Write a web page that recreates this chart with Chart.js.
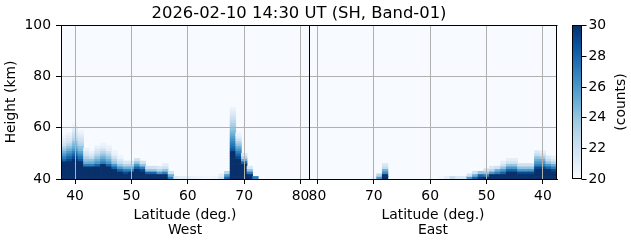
<!DOCTYPE html>
<html><head><meta charset="utf-8">
<script src="https://cdn.jsdelivr.net/npm/chart.js@4.4.1/dist/chart.umd.min.js"></script>
<style>html,body{margin:0;padding:0;background:#fff}#wrap{width:631px;height:243px}</style>
</head><body><div id="wrap"><canvas id="c" width="631" height="243"></canvas></div>
<script>
const titleText = '2026-02-10 14:30 UT (SH, Band-01)';
const yTitle = 'Height (km)';
const xTitle = 'Latitude (deg.)';
const sideNames = ['West', 'East'];
const cbarTitle = '(counts)';

const heightBase = 40;
const heightStep = 1;
const heightTicks = [40, 60, 80, 100];
const latTicks = [40, 50, 60, 70, 80];
const cbarTicks = [20, 22, 24, 26, 28, 30];
const countMin = 20, countMax = 30;

const westLats = [38,39,40,41,42,43,44,45,46,47,48,49,50,51,52,53,54,55,56,57,58,59,60,61,62,63,64,65,66,67,68,69,70,71,72,73,74,75,76,77,78,79,80,81];
// counts per 1-km height cell, from 40 km upward
const westCounts = [
  [30,30,30,30,30,30,30,28,27,26,25,24,23,22,21.5,21,20.5],
  [30,30,30,30,30,30,30,29,28,27,26,25,24,23,22,21.5,21,20.6],
  [30,30,30,30,30,30,30,30,29,28,27,26,25,24.5,24,23,22.5,22,21.5,21,20.6,20.3],
  [30,30,30,30,30,30,30,28.5,27.5,26.5,25.5,24.5,24,23,22.5,22,21.5,21,20.5],
  [30,30,30,30,30,27,25,24,23,22,21.5,20.7],
  [30,30,30,30,30,27,25,24,22.5,21.5,20.7],
  [30,30,30,30,30,28,26,25,24,23,22,21.5,20.7],
  [30,30,30,30,30,30,27,26,25,24,23,22,21,20.6],
  [30,30,30,30,30,28,26,25,24,23,22,21,20.6],
  [30,30,30,30,28,26,24,23,22,21,20.6],
  [30,30,30,28,26,24,22.5,21.5,20.6],
  [30,30,29,27,25,23,21.5],
  [30,30,30,27,25,23,21.5],
  [30,30,30,30,28,26,24,22],
  [30,30,30,29,27,24,22],
  [30,30,28,24,22],
  [30,30,28,24,22],
  [30,30,26,23,21.5],
  [30,30,27,24,22,21],
  [27,25,22],
  [21.5],
  [21],
  [21],
  [20.7],
  [20.5],
  [20.3],
  [20.3],
  [20.5],
  [22,21],
  [28,26,23],
  [30,30,30,30,30,30,30,30,30,30,30,28.5,27.8,27.3,26.7,26.2,25.6,25,24.5,24,23.6,23.2,22.7,22.3,21.9,21.4,21,20.6],
  [30,30,30,30,30,30,30,30,29,28,27,26,25,24,23,22,21,20.5],
  [30,30,30,30,30,30,28,25,23,21.5],
  [30,30,27,24,21.5],
  [27],
  [],[],[],[],[],[],[],[],[]
];

const eastLats = [81,80,79,78,77,76,75,74,73,72,71,70,69,68,67,66,65,64,63,62,61,60,59,58,57,56,55,54,53,52,51,50,49,48,47,46,45,44,43,42,41,40,39,38];
const eastCounts = [
  [],[],[],[],[],[],[],[],[],[],[],
  [20.5],
  [26,23],
  [30,30,26.5,25,22.5,21.5],
  [],[],[],[],[],[],[],[],[],
  [20.3],
  [21],
  [22.5],
  [21.5],
  [21.5],
  [26,22],
  [28,25,22],
  [29.5,28,24],
  [30,27,24,22],
  [30,30,26,23,21.5],
  [30,30,27,25,22],
  [30,30,28,26,24,22,21],
  [30,30,30,28,26,24,22,21],
  [30,30,30,28,26,24,22,21],
  [30,30,29,26,24,22],
  [30,30,29,26,24,22],
  [30,30,29,26,24,22],
  [30,30,30,30,29,27,26,25,24,22.5,21.5],
  [30,30,30,30,29,27,26,25,23.5,22,21],
  [30,30,30,30,28,26,24,22.5,21.5],
  [30,30,30,29,27,25,23,21.5,20.7]
];

// Matplotlib "Blues" colormap anchors
const blues = ['#f7fbff','#deebf7','#c6dbef','#9ecae1','#6baed6','#4292c6','#2171b5','#08519c','#08306b'];
function hex(h){return [parseInt(h.slice(1,3),16),parseInt(h.slice(3,5),16),parseInt(h.slice(5,7),16)];}
const bluesRGB = blues.map(hex);
function cmap(v){
  let t = (v - countMin) / (countMax - countMin);
  t = Math.max(0, Math.min(1, t));
  const f = t * (bluesRGB.length - 1);
  const i = Math.min(bluesRGB.length - 2, Math.floor(f));
  const u = f - i;
  const a = bluesRGB[i], b = bluesRGB[i+1];
  const c = a.map((x,k)=>Math.round(x + (b[k]-x)*u));
  return 'rgb(' + c.join(',') + ')';
}

const nWest = westLats.length, nEast = eastLats.length;
const cells = [];
westCounts.forEach((col, i) => col.forEach((v, r) => cells.push({x: i + 0.5, y: [heightBase + r*heightStep, heightBase + (r+1)*heightStep], c: v})));
eastCounts.forEach((col, j) => col.forEach((v, r) => cells.push({x: nWest + j + 0.5, y: [heightBase + r*heightStep, heightBase + (r+1)*heightStep], c: v})));

const xTickVals = [], xTickLabels = [];
latTicks.forEach(l => { xTickVals.push(westLats.indexOf(l) + 0.5); xTickLabels.push(String(l)); });
latTicks.slice().reverse().forEach(l => { xTickVals.push(nWest + eastLats.indexOf(l) + 0.5); xTickLabels.push(String(l)); });

const FONT = "'DejaVu Sans'";
Chart.defaults.font.family = FONT;
Chart.defaults.font.size = 13.9;
Chart.defaults.color = '#000';

const decor = {
  id: 'decor',
  beforeDatasetsDraw(chart) {
    const {ctx, chartArea: a} = chart;
    ctx.save();
    ctx.fillStyle = cmap(countMin);
    ctx.fillRect(a.left, a.top, a.right - a.left, a.bottom - a.top);
    ctx.restore();
  },
  afterDraw(chart) {
    const {ctx, chartArea: a, scales} = chart;
    ctx.save();
    ctx.strokeStyle = '#000'; ctx.lineWidth = 1;
    ctx.beginPath();
    ctx.moveTo(a.left, a.top + 0.5); ctx.lineTo(a.right + 0.5, a.top + 0.5);
    ctx.moveTo(a.right - 0.5, a.top); ctx.lineTo(a.right - 0.5, a.bottom);
    const mx = Math.round(scales.x.getPixelForValue(nWest)) + 0.5;
    ctx.moveTo(mx, a.top); ctx.lineTo(mx, a.bottom);
    ctx.stroke();

    ctx.fillStyle = '#000';
    ctx.font = '16.4px ' + FONT;
    ctx.textAlign = 'center'; ctx.textBaseline = 'alphabetic';
    ctx.fillText(titleText, 299, 18);

    ctx.font = '13.9px ' + FONT;
    const midW = (a.left + scales.x.getPixelForValue(nWest)) / 2;
    const midE = (scales.x.getPixelForValue(nWest) + a.right) / 2;
    ctx.fillText(xTitle, midW, 219);
    ctx.fillText(xTitle, midE, 219);
    ctx.fillText(sideNames[0], midW, 234);
    ctx.fillText(sideNames[1], midE, 234);

    ctx.save();
    ctx.translate(11, (a.top + a.bottom) / 2);
    ctx.rotate(-Math.PI / 2);
    ctx.textBaseline = 'middle';
    ctx.fillText(yTitle, 0, 0);
    ctx.restore();

    // colorbar
    const cx0 = a.right + 15.5, cw = 9, ct = a.top, cb = a.bottom;
    const g = ctx.createLinearGradient(0, cb, 0, ct);
    blues.forEach((c, i) => g.addColorStop(i / (blues.length - 1), c));
    ctx.fillStyle = g;
    ctx.fillRect(cx0, ct, cw, cb - ct);
    ctx.strokeStyle = '#000'; ctx.lineWidth = 1;
    ctx.strokeRect(cx0, ct + 0.5, cw, cb - ct - 1);
    ctx.fillStyle = '#000';
    ctx.textAlign = 'left'; ctx.textBaseline = 'middle';
    cbarTicks.forEach(v => {
      const y = Math.round(cb - (v - countMin) / (countMax - countMin) * (cb - ct)) + 0.5;
      ctx.beginPath(); ctx.moveTo(cx0 + cw, y); ctx.lineTo(cx0 + cw + 5, y); ctx.stroke();
      ctx.fillText(String(v), cx0 + cw + 7, y);
    });
    ctx.save();
    ctx.translate(621, (a.top + a.bottom) / 2);
    ctx.rotate(-Math.PI / 2);
    ctx.textAlign = 'center'; ctx.textBaseline = 'middle';
    ctx.fillText(cbarTitle, 0, 0);
    ctx.restore();
    ctx.restore();
  }
};

new Chart(document.getElementById('c'), {
  type: 'bar',
  data: { datasets: [{
    data: cells,
    backgroundColor: ctx => cmap(ctx.raw ? ctx.raw.c : countMin),
    borderWidth: 0,
    barPercentage: 1,
    categoryPercentage: 1
  }]},
  options: {
    responsive: false,
    animation: false,
    devicePixelRatio: 1,
    events: [],
    layout: { padding: { left: 0, top: 25, right: 74, bottom: 0 } },
    plugins: { legend: { display: false }, tooltip: { enabled: false }, title: { display: false } },
    scales: {
      x: {
        type: 'linear', min: 0, max: nWest + nEast, offset: false,
        afterBuildTicks: s => { s.ticks = xTickVals.map(v => ({ value: v })); },
        afterFit: s => { s.height = 64; },
        ticks: { autoSkip: false, maxRotation: 0, padding: 4, callback: (v, i) => xTickLabels[i] },
        grid: { z: 1, color: '#b0b0b0', lineWidth: 1, tickColor: '#000', tickLength: 5, offset: false },
        border: { z: 2, color: '#000', width: 1 }
      },
      y: {
        type: 'linear', min: 40, max: 100,
        afterBuildTicks: s => { s.ticks = heightTicks.map(v => ({ value: v })); },
        afterFit: s => { s.width = 61; },
        ticks: { padding: 5, callback: v => String(v) },
        grid: { z: 1, color: '#b0b0b0', lineWidth: 1, tickColor: '#000', tickLength: 5 },
        border: { z: 2, color: '#000', width: 1 }
      }
    }
  },
  plugins: [decor]
});
</script>
</body></html>
